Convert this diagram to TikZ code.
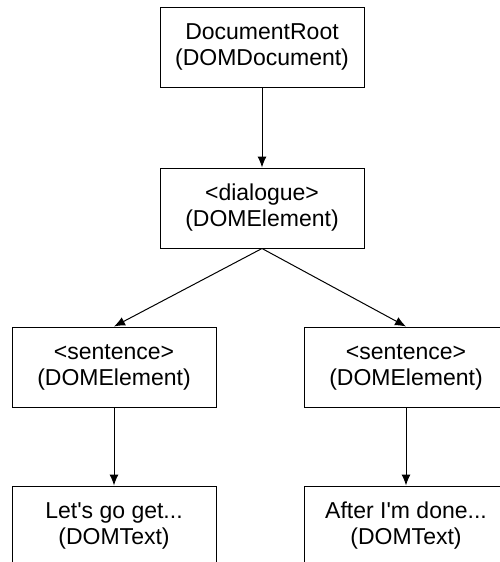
\documentclass[tikz,border=0pt]{standalone}
\usepackage{fontspec}
\setmainfont{Liberation Sans}
\usepackage{tikz}
\usetikzlibrary{arrows.meta,positioning}

\begin{document}
\begin{tikzpicture}[font=\fontsize{23}{26}\selectfont,node distance=78pt,
 domnode/.style={draw,line width=1pt,minimum width=204pt,minimum height=80pt,align=center,inner sep=0pt},
 arr/.style={-{Latex[length=11pt,width=9pt]},line width=1pt}]
\useasboundingbox (0,0) rectangle (499pt,-562pt);
\node[domnode] (root) at (262pt,-47pt) {DocumentRoot\\(DOMDocument)};
\node[domnode,below=80pt of root] (dialogue) {<dialogue>\\(DOMElement)};
\node[domnode,below=of dialogue,xshift=-148pt] (sentleft) {<sentence>\\(DOMElement)};
\node[domnode,below=of dialogue,xshift=144pt] (sentright) {<sentence>\\(DOMElement)};
\node[domnode,below=of sentleft] (textleft) {Let\textquotesingle s go get...\\(DOMText)};
\node[domnode,below=of sentright] (textright) {After I\textquotesingle m done...\\(DOMText)};
\draw[arr] (root)--(dialogue); \draw[arr] (dialogue.south)--(sentleft.north); \draw[arr] (dialogue.south)--(sentright.north);
\draw[arr] (sentleft)--(textleft); \draw[arr] (sentright)--(textright);
\end{tikzpicture}
\end{document}
